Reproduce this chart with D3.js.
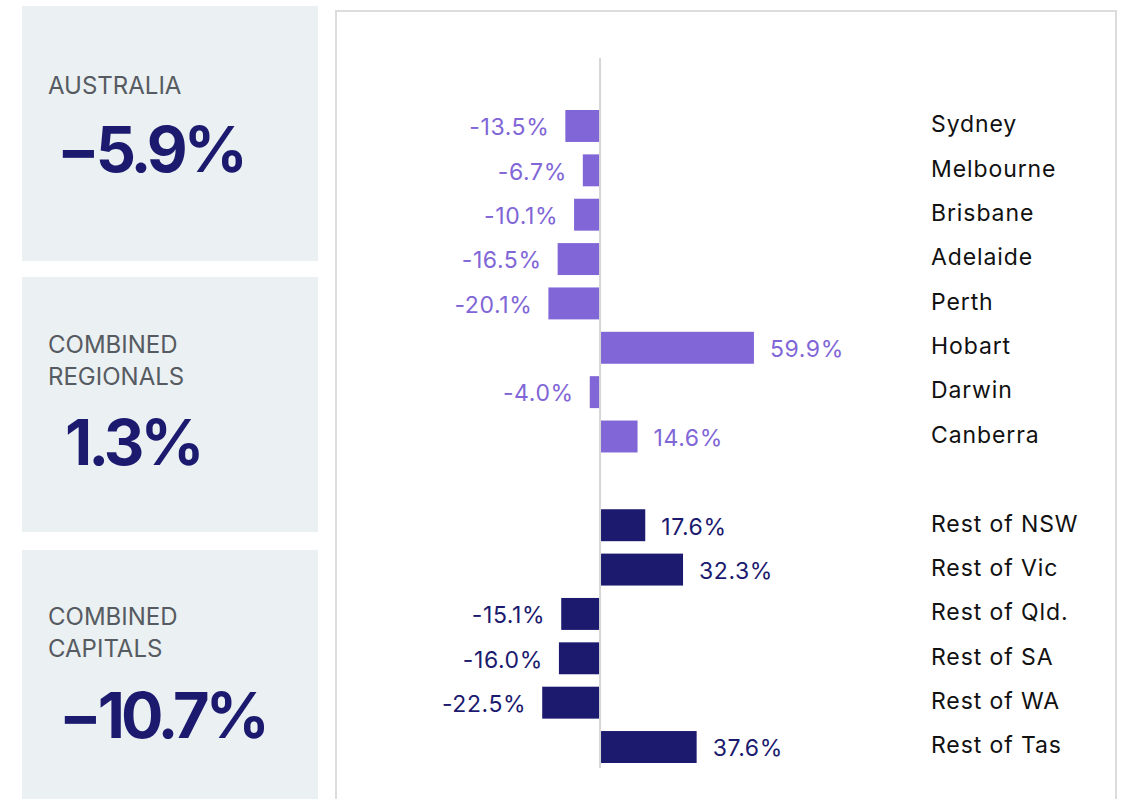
<!DOCTYPE html>
<html>
<head>
<meta charset="utf-8">
<script src="https://cdn.jsdelivr.net/npm/d3@7"></script>
<style>
	html, body { margin: 0; padding: 0; background: #fff; }
	svg { display: block; font-family: Inter, "Open Sans", sans-serif; }
</style>
</head>
<body>
<div id="chart"></div>
<script>
//	数据
const capitals = ['Sydney', 'Melbourne', 'Brisbane', 'Adelaide', 'Perth', 'Hobart', 'Darwin', 'Canberra'];
const capitalValues = [-13.5, -6.7, -10.1, -16.5, -20.1, 59.9, -4.0, 14.6];
const regionals = ['Rest of NSW', 'Rest of Vic', 'Rest of Qld.', 'Rest of SA', 'Rest of WA', 'Rest of Tas'];
const regionalValues = [17.6, 32.3, -15.1, -16.0, -22.5, 37.6];
const summaryLabels = [['AUSTRALIA'], ['COMBINED', 'REGIONALS'], ['COMBINED', 'CAPITALS']];
const summaryValues = [-5.9, 1.3, -10.7];

const width = 1125, height = 799;
const purple = '#8066d6', navy = '#1b1a6e';

const svg = d3.select('#chart')
	.append('svg')
	.attr('width', width)
	.attr('height', height);

//	左侧汇总框
const boxes = [
	{ y: 6, h: 255, labelY: 87, valueY: 172, valueX: 57 },
	{ y: 277, h: 255, labelY: 346, valueY: 465, valueX: 65 },
	{ y: 550, h: 260, labelY: 618, valueY: 738, valueX: 59 }
];
boxes.forEach((b, i) => {
	const g = svg.append('g');
	g.append('rect')
		.attr('x', 22).attr('y', b.y)
		.attr('width', 296).attr('height', b.h)
		.style('fill', '#ebf0f3');
	summaryLabels[i].forEach((t, j) => {
		g.append('text')
			.attr('x', 48).attr('y', b.labelY + j * 32)
			.attr('dominant-baseline', 'middle')
			.style('font-size', '24px')
			.style('fill', '#565b61')
			.text(t);
	});
	const v = summaryValues[i];
	g.append('text')
		.attr('x', b.valueX).attr('y', b.valueY)
		.style('font-size', '63px')
		.style('font-weight', 700)
		.style('letter-spacing', '-4px')
		.style('fill', navy)
		.text((v < 0 ? '\u2212' : '') + Math.abs(v).toFixed(1) + '%');
});

//	右侧面板
svg.append('rect')
	.attr('x', 336).attr('y', 11)
	.attr('width', 780).attr('height', 800)
	.style('fill', '#fff')
	.attr('stroke', '#dcdcdc')
	.style('stroke-width', 2);

//	行（中间留一个空位）
const rows = capitals.map((name, i) => ({ name, value: capitalValues[i], color: purple }))
	.concat([{ name: '', value: null }])
	.concat(regionals.map((name, i) => ({ name, value: regionalValues[i], color: navy })));

const y = d3.scaleBand()
	.domain(rows.map((d, i) => i))
	.range([103.8, 769.2])
	.paddingInner(0.28)
	.paddingOuter(0.14);

const x = d3.scaleLinear()
	.domain([-25, 60])
	.range([535.8, 754.2]);

const data = rows.map((d, i) => Object.assign({ idx: i }, d)).filter(d => d.value !== null);

//	零线
svg.append('line')
	.attr('x1', x(0)).attr('x2', x(0))
	.attr('y1', 58).attr('y2', 768)
	.attr('stroke', '#d6d6d6')
	.style('stroke-width', 2);

//	柱子
svg.selectAll('rect.bar')
	.data(data)
	.enter()
	.append('rect')
	.attr('class', 'bar')
	.attr('x', d => d.value < 0 ? x(d.value) : x(0) + 1)
	.attr('y', d => y(d.idx))
	.attr('width', d => Math.abs(x(d.value) - x(0)) - 1)
	.attr('height', y.bandwidth())
	.style('fill', d => d.color);

//	数值
svg.selectAll('text.val')
	.data(data)
	.enter()
	.append('text')
	.attr('class', 'val')
	.attr('x', d => d.value < 0 ? x(d.value) - 16 : x(d.value) + 16)
	.attr('y', d => y(d.idx) + y.bandwidth() / 2 + 3)
	.attr('dominant-baseline', 'middle')
	.attr('text-anchor', d => d.value < 0 ? 'end' : 'start')
	.style('font-size', '23px')
	.style('letter-spacing', '0.6px')
	.style('fill', d => d.color)
	.text(d => d.value.toFixed(1) + '%');

//	类别名称
svg.selectAll('text.cat')
	.data(data)
	.enter()
	.append('text')
	.attr('class', 'cat')
	.attr('x', 931)
	.attr('y', d => y(d.idx) + y.bandwidth() / 2)
	.attr('dominant-baseline', 'middle')
	.style('font-size', '23px')
	.style('letter-spacing', '0.9px')
	.style('fill', '#111')
	.text(d => d.name);
</script>
</body>
</html>
